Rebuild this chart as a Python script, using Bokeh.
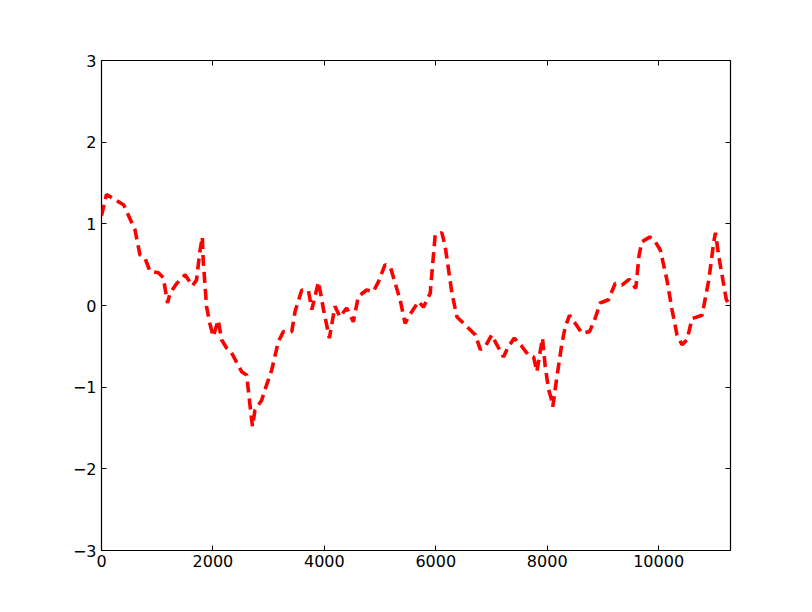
from bokeh.plotting import figure
from bokeh.models import FixedTicker, LinearAxis, Range1d
from bokeh.embed import file_html
from bokeh.resources import INLINE

# Series
x_values = [0, 90, 330, 400, 600, 690, 780, 870, 1020, 1110, 1185, 1230, 1350, 1500, 1545,
            1630, 1705, 1765, 1810, 1825, 1885, 1945, 2005, 2095, 2155, 2245, 2335, 2515,
            2605, 2695, 2710, 2755, 2875, 2935, 3055, 3175, 3265, 3415, 3475, 3595, 3715,
            3775, 3895, 3985, 4090, 4190, 4280, 4400, 4520, 4610, 4760, 4880, 4970, 5090,
            5190, 5360, 5450, 5510, 5690, 5780, 5900, 5990, 6110, 6170, 6290, 6380, 6470,
            6620, 6710, 6800, 6890, 7005, 7095, 7215, 7305, 7410, 7545, 7665, 7755, 7815,
            7875, 7915, 7965, 8025, 8065, 8100, 8175, 8265, 8325, 8400, 8505, 8625, 8760,
            8860, 8950, 9100, 9220, 9340, 9470, 9590, 9650, 9700, 9840, 9940, 10030, 10150,
            10240, 10330, 10420, 10510, 10600, 10780, 10900, 10990, 11020, 11080, 11215, 11290]
y_values = [1.10, 1.36, 1.26, 1.23, 0.93, 0.62, 0.58, 0.42, 0.40, 0.34, 0.03, 0.15, 0.27, 0.375, 0.33,
            0.24, 0.31, 0.66, 0.84, 0.56, -0.01, -0.22, -0.38, -0.18, -0.42, -0.52, -0.58, -0.81,
            -0.85, -1.40, -1.48, -1.28, -1.16, -1.03, -0.79, -0.44, -0.32, -0.32, -0.07, 0.19, 0.18,
            -0.05, 0.29, -0.05, -0.40, -0.01, -0.14, -0.03, -0.20, 0.11, 0.19, 0.17, 0.29, 0.50,
            0.46, 0.07, -0.22, -0.14, 0.05, -0.02, 0.15, 0.87, 0.89, 0.72, 0.15, -0.14, -0.20,
            -0.30, -0.36, -0.54, -0.50, -0.36, -0.48, -0.63, -0.50, -0.40, -0.50, -0.61, -0.63, -0.81,
            -0.56, -0.40, -0.75, -1.03, -1.12, -1.24, -0.87, -0.46, -0.26, -0.12, -0.22, -0.34, -0.32,
            -0.16, 0.03, 0.07, 0.27, 0.25, 0.32, 0.21, 0.62, 0.78, 0.84, 0.78, 0.68, 0.31,
            -0.05, -0.36, -0.48, -0.42, -0.16, -0.12, 0.31, 0.78, 0.89, 0.60, 0.07, 0.0]

x_ticks = [0, 2000, 4000, 6000, 8000, 10000]
y_ticks = [-3, -2, -1, 0, 1, 2, 3]
x_limits = (0, 11290)
y_limits = (-3, 3)

FONT = "DejaVu Sans"

p = figure(output_backend="svg", toolbar_location=None,
           frame_width=629, frame_height=490,
           x_range=Range1d(*x_limits), y_range=Range1d(*y_limits),
           min_border_left=101, min_border_top=60, min_border_right=66, min_border_bottom=46,
           background_fill_color="white", border_fill_color="white")
p.grid.visible = False
p.outline_line_color = "black"
p.outline_line_width = 1.2

p.line(x_values, y_values, line_color="red", line_width=3.6, line_dash="11 6")

def style(ax, ticks, labels=True, overrides=None):
    ax.ticker = FixedTicker(ticks=ticks)
    ax.axis_line_color = None
    ax.major_tick_in = 5
    ax.major_tick_out = 0
    ax.minor_tick_line_color = None
    ax.major_tick_line_color = "black"
    if labels:
        ax.major_label_text_font = FONT
        ax.major_label_text_font_size = "16px"
        ax.major_label_text_color = "black"
        if overrides:
            ax.major_label_overrides = overrides
    else:
        ax.major_label_text_font_size = "0px"
        ax.major_label_text_color = None

style(p.xaxis[0], x_ticks)
p.xaxis[0].major_label_standoff = 4
style(p.yaxis[0], y_ticks, overrides={t: str(t).replace("-", "\u2212") for t in y_ticks})
p.yaxis[0].major_label_standoff = 5

top = LinearAxis()
style(top, x_ticks, labels=False)
p.add_layout(top, "above")
right = LinearAxis()
style(right, y_ticks, labels=False)
p.add_layout(right, "right")

open("out.html", "w").write(file_html(p, INLINE))
